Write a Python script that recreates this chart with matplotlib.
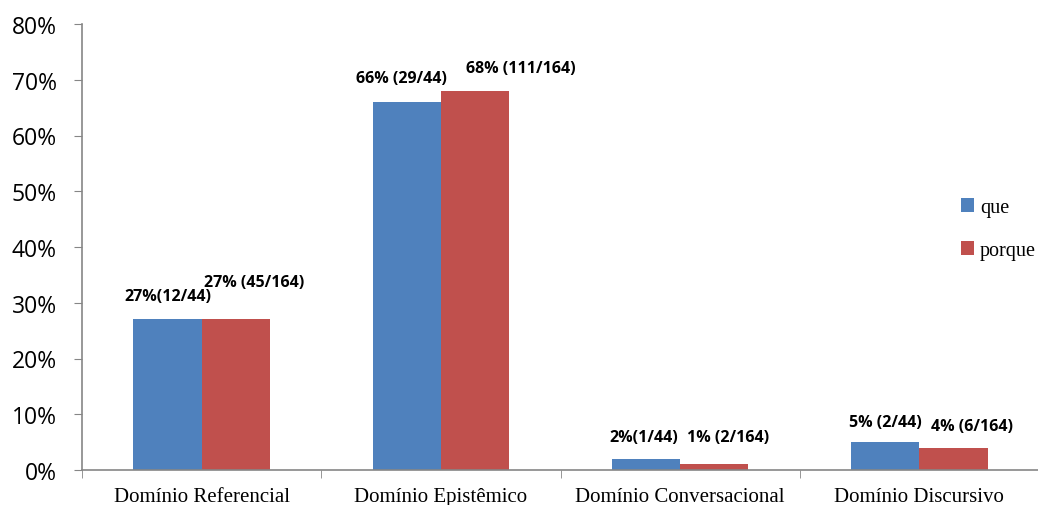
import matplotlib.pyplot as plt
import numpy as np

categories = ['Domínio Referencial', 'Domínio Epistêmico', 'Domínio Conversacional', 'Domínio Discursivo']
que = [27, 66, 2, 5]
porque = [27, 68, 1, 4]
que_labels = ['27%(12/44)', '66% (29/44)', '2%(1/44)', '5% (2/44)']
porque_labels = ['27% (45/164)', '68% (111/164)', '1% (2/164)', '4% (6/164)']

# label offsets (points) relative to bar tops
que_off = [(0, 11), (-4, 11.5), (-1.5, 10), (0, 9)]
porque_off = [(13, 21), (33, 11), (10, 14), (13, 10)]

fig = plt.figure(figsize=(10.38, 5.06), dpi=100)
ax = fig.add_axes([82 / 1038, 35 / 506, 957 / 1038, 446 / 506])

x = np.arange(len(categories))
w = 0.285
b1 = ax.bar(x - w / 2, que, w, color='#4f81bd', label='que')
b2 = ax.bar(x + w / 2, porque, w, color='#c0504d', label='porque')

for i in range(len(categories)):
    ax.annotate(que_labels[i], (x[i] - w / 2, que[i]), xytext=que_off[i],
                textcoords='offset points', ha='center', va='bottom',
                fontsize=11.5, fontweight='bold', family='Open Sans')
    ax.annotate(porque_labels[i], (x[i] + w / 2, porque[i]), xytext=porque_off[i],
                textcoords='offset points', ha='center', va='bottom',
                fontsize=11.5, fontweight='bold', family='Open Sans')

ax.set_xlim(-0.5, len(categories) - 0.5)
ax.set_ylim(0, 80)
ax.set_yticks(range(0, 81, 10))
ax.set_yticklabels([f'{v}%' for v in range(0, 81, 10)], family='Open Sans', fontsize=16.5)
ax.set_xticks(x)
ax.set_xticklabels(categories, family='Liberation Serif', fontsize=15)
ax.set_xticks(np.arange(-0.5, len(categories), 1), minor=True)
ax.tick_params(axis='x', which='major', length=0, pad=12)
ax.tick_params(axis='x', which='minor', length=6, direction='out', color='#868686')
ax.tick_params(axis='y', length=6, color='#868686', pad=12)

for s in ['top', 'right']:
    ax.spines[s].set_visible(False)
for s in ['left', 'bottom']:
    ax.spines[s].set_color('#868686')
    ax.spines[s].set_linewidth(1.2)

fig.legend(handles=[b1, b2], loc='center left', bbox_to_anchor=(961 / 1038, 1 - 230 / 506),
           frameon=False, handlelength=0.65, handleheight=0.65, handletextpad=0.3,
           labelspacing=1.2, borderaxespad=0, borderpad=0,
           prop={'family': 'Liberation Serif', 'size': 14.5})

fig.savefig('out.png', dpi=100)
